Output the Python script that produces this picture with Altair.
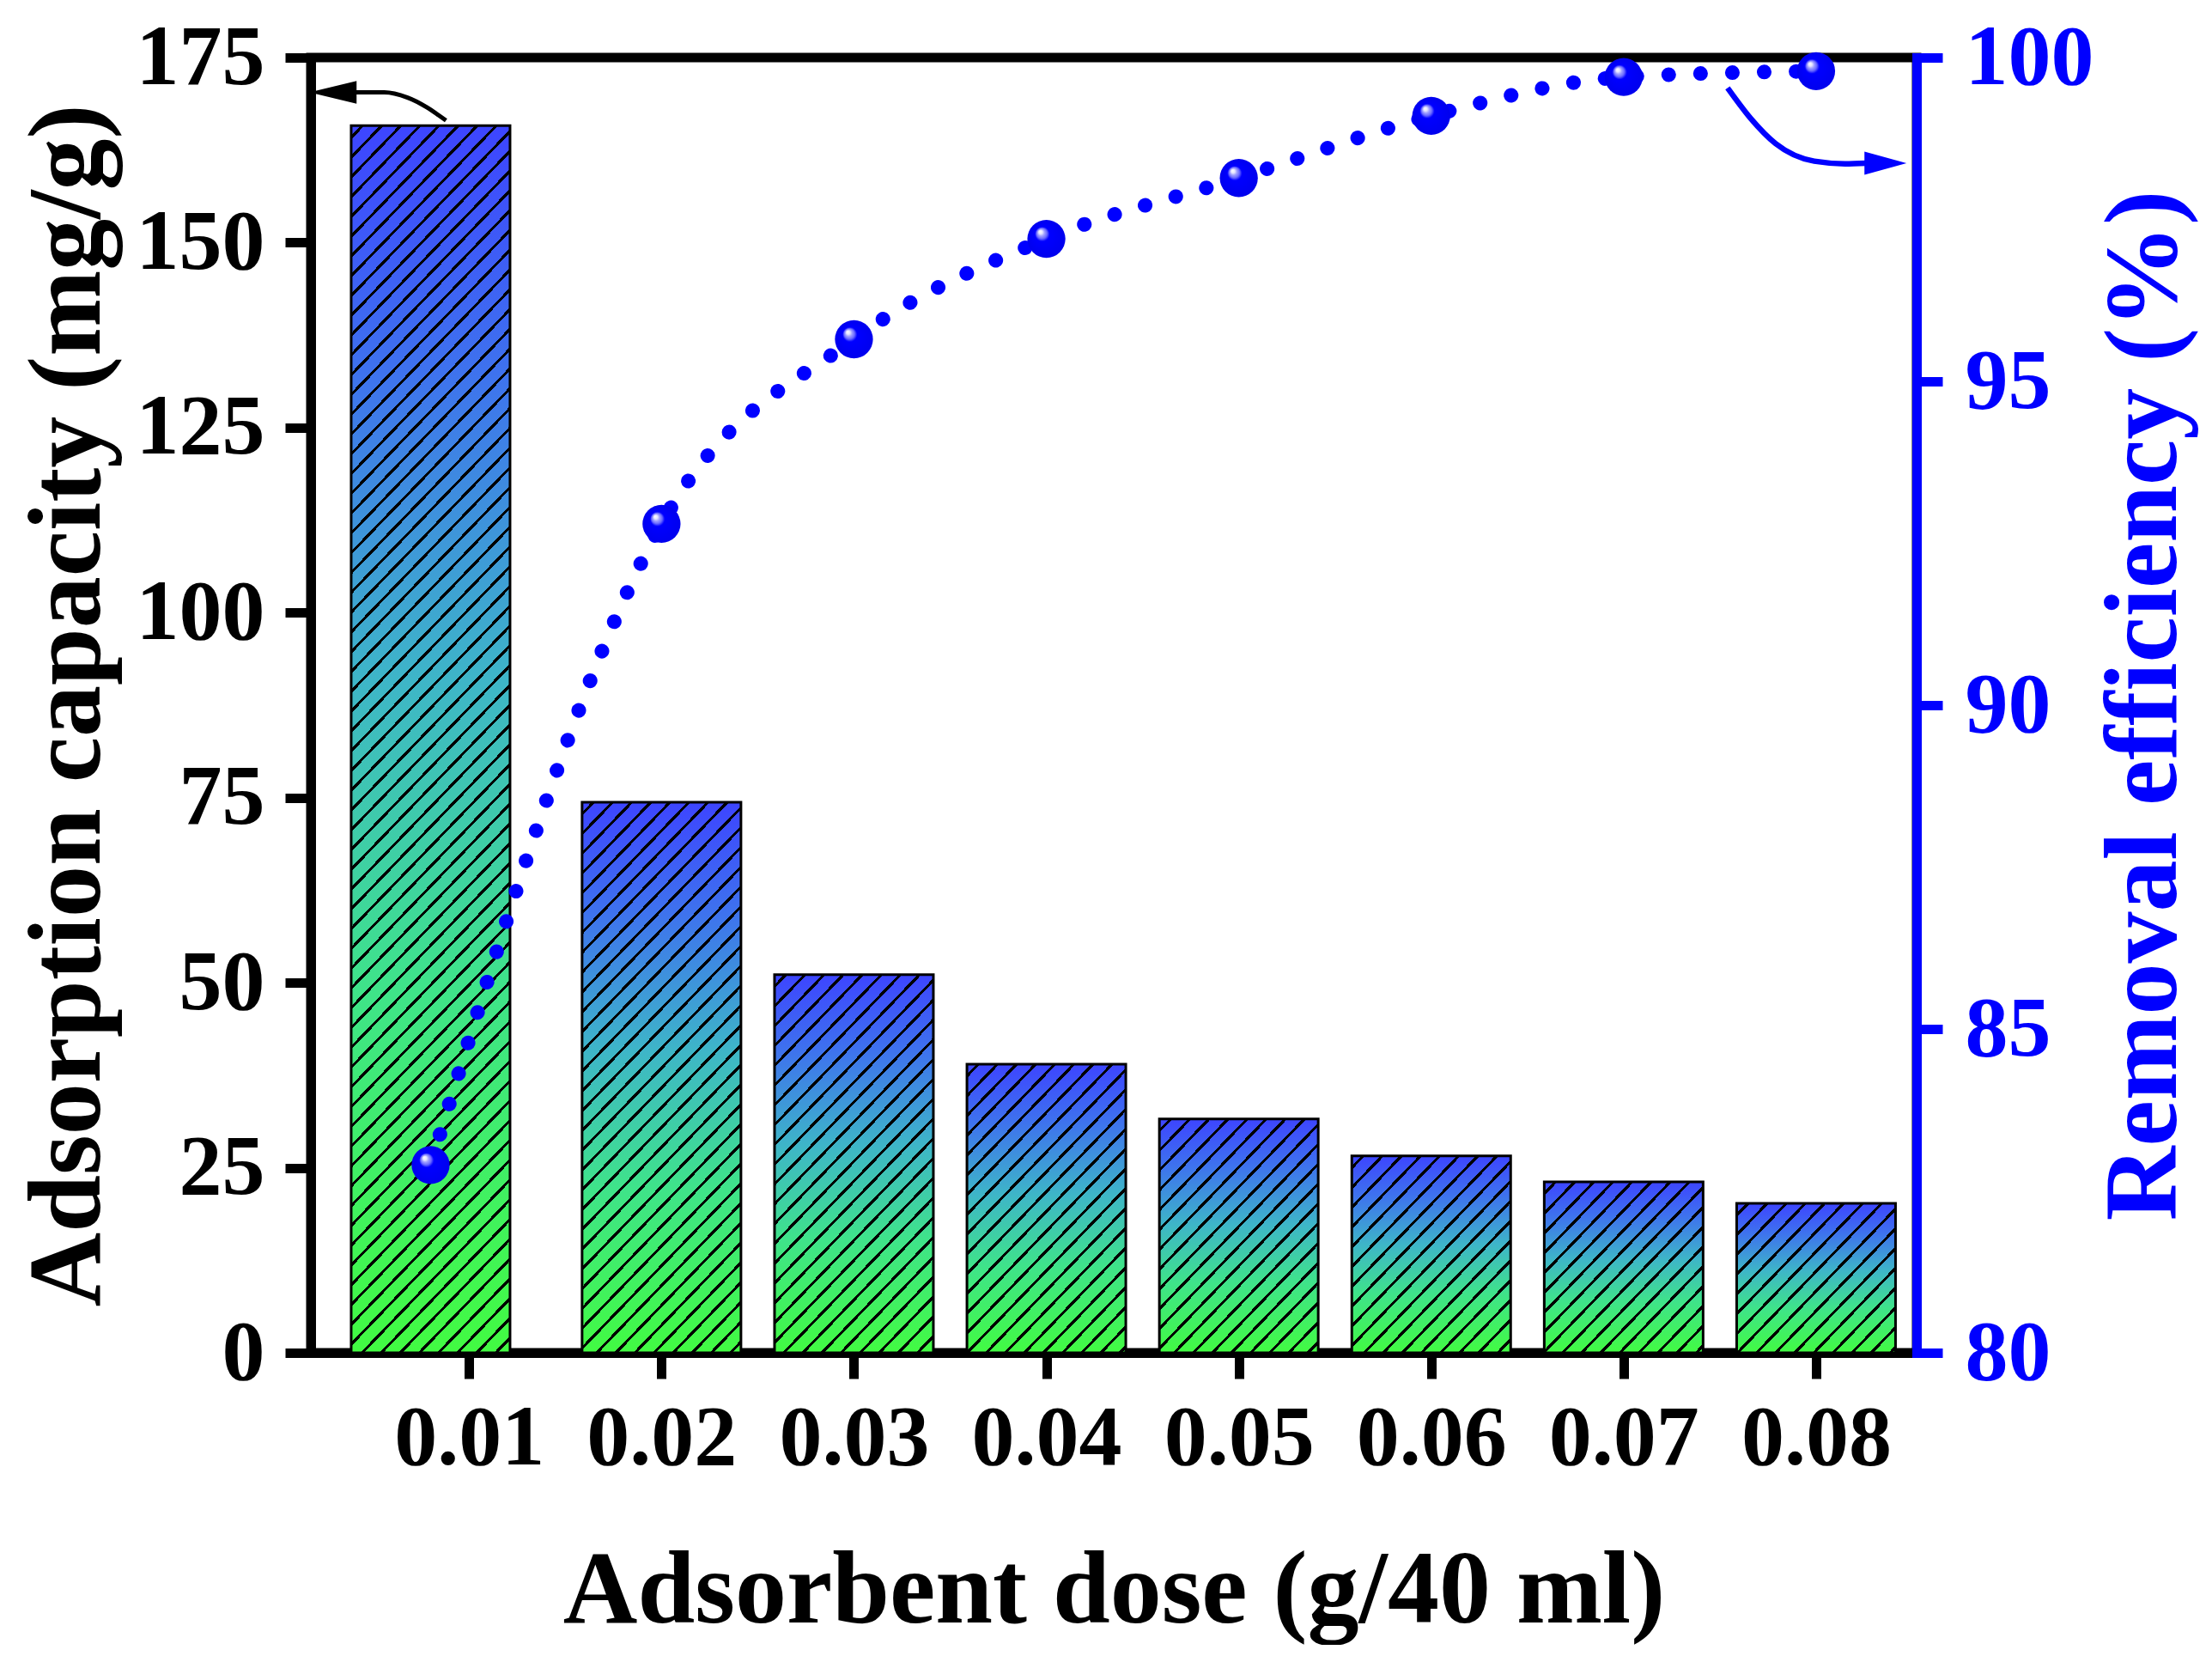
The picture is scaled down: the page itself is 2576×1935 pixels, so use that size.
import math

import altair as alt
import pandas as pd

# values
dose = [0.008, 0.02, 0.03, 0.04, 0.05, 0.06, 0.07, 0.08]
capacity = [165.8, 74.4, 51.1, 39.0, 31.6, 26.6, 23.1, 20.2]
removal = [82.9, 92.8, 95.65, 97.2, 98.14, 99.1, 99.7, 99.79]

x_ticks = [0.01, 0.02, 0.03, 0.04, 0.05, 0.06, 0.07, 0.08]
q_ticks = [0, 25, 50, 75, 100, 125, 150, 175]
r_ticks = [80, 85, 90, 95, 100]

# curved arrows pointing each series to its axis
q_arrow_x = [0.0088, 0.0068, 0.0056, 0.00414]
q_arrow_y = [166.5, 169.6, 170.3, 170.3]
q_tip_x, q_tip_y = [0.0017], [170.3]
r_arrow_x = [0.0754, 0.0766, 0.0779, 0.0799, 0.0815, 0.0826]
r_arrow_y = [99.53, 99.06, 98.67, 98.40, 98.36, 98.37]
r_tip_x, r_tip_y = [0.0847], [98.37]

W, H = 1870, 1508
BAR_W = 185
BLUE = "#0000FF"
FONT = "Liberation Serif"
CLEAR = "rgba(0,0,0,0)"
ANG = math.radians(46)
PERIOD, LINE = 16, 3.2

df = pd.DataFrame({"i": range(len(dose)), "dose": dose, "capacity": capacity, "removal": removal})
q_arrow = pd.DataFrame({"x": q_arrow_x, "y": q_arrow_y})
r_arrow = pd.DataFrame({"x": r_arrow_x, "y": r_arrow_y})
q_tip = pd.DataFrame({"x": q_tip_x, "y": q_tip_y})
r_tip = pd.DataFrame({"x": r_tip_x, "y": r_tip_y})


def hatch_fill(value):
    # diagonal black stripes as a hard-stop gradient over one bar
    h = value / 175 * H
    s, c = math.sin(ANG), math.cos(ANG)
    span = BAR_W * s + h * c
    k = span * BAR_W * s / ((BAR_W * s) ** 2 + (h * c) ** 2)
    stops = [{"offset": 0, "color": CLEAR}]
    d = PERIOD / 2
    while d + LINE < span:
        a, b = round(d / span, 5), round((d + LINE) / span, 5)
        stops += [
            {"offset": a, "color": CLEAR},
            {"offset": a, "color": "black"},
            {"offset": b, "color": "black"},
            {"offset": b, "color": CLEAR},
        ]
        d += PERIOD
    stops.append({"offset": 1, "color": CLEAR})
    return {"gradient": "linear", "x1": 0, "y1": 0, "x2": k,
            "y2": k * h * c / (BAR_W * s), "stops": stops}


bar_fill = {
    "gradient": "linear", "x1": 0, "y1": 0, "x2": 0, "y2": 1,
    "stops": [
        {"offset": 0, "color": "#3D45FF"},
        {"offset": 0.2, "color": "#3E72EE"},
        {"offset": 0.45, "color": "#3EB5C8"},
        {"offset": 0.7, "color": "#3FE38A"},
        {"offset": 1, "color": "#42FB42"},
    ],
}
ball_fill = {
    "gradient": "radial", "x1": 0.33, "y1": 0.3, "r1": 0, "x2": 0.5, "y2": 0.5, "r2": 0.5,
    "stops": [
        {"offset": 0, "color": "#FFFFFF"},
        {"offset": 0.1, "color": "#E6E6FF"},
        {"offset": 0.18, "color": "#A0A0FF"},
        {"offset": 0.28, "color": "#6A6AFF"},
        {"offset": 0.38, "color": BLUE},
        {"offset": 1, "color": "#0000EE"},
    ],
}

x_scale = alt.Scale(domain=[0.002, 0.085], nice=False, zero=False)
q_scale = alt.Scale(domain=[0, 175], nice=False)
r_scale = alt.Scale(domain=[80, 100], nice=False, zero=False)

x_axis = alt.Axis(
    values=x_ticks, format=".2f", title="Adsorbent dose (g/40 ml)",
    labelBaseline="alphabetic", labelPadding=99,
    titleX=W / 2, titleY=313, titleAlign="center", titleBaseline="alphabetic", titleAngle=0,
)
q_axis = alt.Axis(
    orient="left", values=q_ticks, title="Adsorption capacity (mg/g)", labelPadding=24,
    titleX=-247, titleY=H / 2, titleAngle=270, titleAlign="center", titleBaseline="alphabetic",
)
r_axis = alt.Axis(
    orient="right", values=r_ticks, title="Removal efficiency (%)", labelPadding=26,
    domainColor=BLUE, tickColor=BLUE, labelColor=BLUE, titleColor=BLUE,
    titleX=301, titleY=H / 2, titleAngle=270, titleAlign="center", titleBaseline="alphabetic",
)


def xq(field):
    return alt.X(field, type="quantitative", scale=x_scale, axis=x_axis)


def yq(field):
    return alt.Y(field, type="quantitative", scale=q_scale, axis=q_axis)


def yr(field):
    return alt.Y(field, type="quantitative", scale=r_scale, axis=r_axis)


base = alt.Chart(df)

bars = base.mark_bar(
    orient="vertical", width=BAR_W, fill=bar_fill, stroke="black", strokeWidth=3
).encode(x=xq("dose"), y=yq("capacity"))

hatches = [
    base.transform_filter(alt.datum.i == i)
    .mark_bar(orient="vertical", width=BAR_W, fill=hatch_fill(v))
    .encode(x=xq("dose"), y=yq("capacity"))
    for i, v in enumerate(capacity)
]

q_curve = alt.Chart(q_arrow).mark_line(
    color="black", strokeWidth=5, interpolate="monotone"
).encode(x=xq("x"), y=yq("y"))
q_head = alt.Chart(q_tip).mark_point(
    shape="M0,0 L2,-0.48 L2,0.48 Z", size=3025, filled=True, color="black", opacity=1
).encode(x=xq("x"), y=yq("y"))

dots = base.mark_line(
    color=BLUE, strokeWidth=17, strokeDash=[0.1, 37], strokeCap="round", interpolate="monotone"
).encode(x=xq("dose"), y=yr("removal"))
balls = base.mark_circle(size=1960, opacity=1, color=ball_fill).encode(
    x=xq("dose"), y=yr("removal")
)
r_curve = alt.Chart(r_arrow).mark_line(
    color=BLUE, strokeWidth=6.5, interpolate="monotone"
).encode(x=xq("x"), y=yr("y"))
r_head = alt.Chart(r_tip).mark_point(
    shape="M0,0 L-2,-0.55 L-2,0.55 Z", size=2401, filled=True, color=BLUE, opacity=1
).encode(x=xq("x"), y=yr("y"))

left = alt.layer(bars, *hatches, q_curve, q_head)
right = alt.layer(dots, balls, r_curve, r_head)

chart = (
    alt.layer(left, right)
    .resolve_scale(y="independent")
    .properties(
        width=W,
        height=H,
        autosize=alt.AutoSizeParams(type="none"),
        padding={"left": 354, "top": 59, "right": 336, "bottom": 340},
        background="white",
    )
    .configure_view(stroke="black", strokeWidth=11)
    .configure_axis(
        grid=False, domainWidth=11, domainCap="square", tickWidth=11, tickSize=30,
        domainColor="black", tickColor="black", labelColor="black", titleColor="black",
        labelFont=FONT, labelFontWeight="bold", labelFontSize=100,
        titleFont=FONT, titleFontWeight="bold", titleFontSize=120,
        labelFlush=False, labelOverlap=False, zindex=1,
    )
)

chart.save("out.html", embed_options={"renderer": "svg", "actions": False})
